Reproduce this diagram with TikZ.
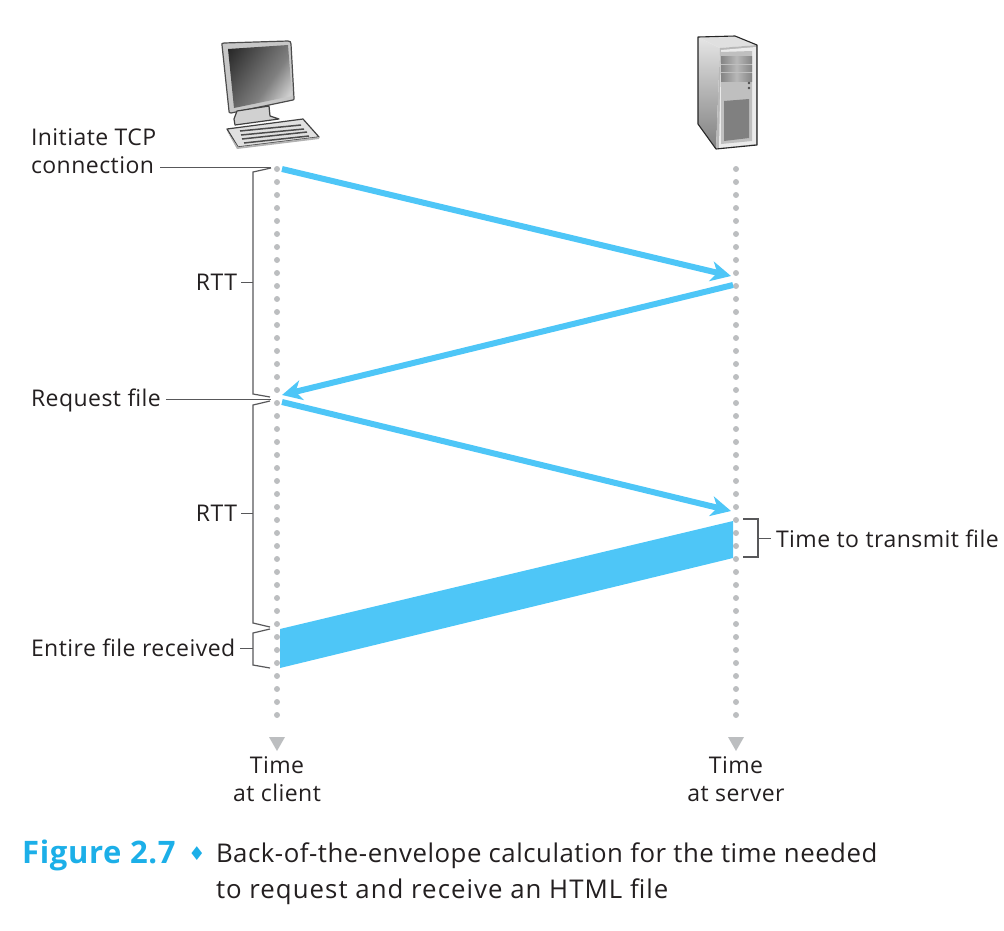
\documentclass[tikz,border=0pt]{standalone}
\usepackage{fontspec}
\setmainfont{Open Sans}[LetterSpace=2]
\newfontfamily\symfont{DejaVu Sans}
\usetikzlibrary{arrows.meta,calc}
\definecolor{flow}{HTML}{4EC6F7}
\definecolor{ink}{HTML}{231F20}
\definecolor{rule}{HTML}{58585A}
\definecolor{dotc}{HTML}{BCBEC0}
\definecolor{capc}{HTML}{1CAFE8}
\pgfdeclarehorizontalshading{screenshade}{100bp}{color(0bp)=(black!85);color(30bp)=(black!85);color(55bp)=(black!50);color(66bp)=(black!18);color(72bp)=(black!45);color(100bp)=(black!60)}
\tikzset{
  x=1pt,y=-1pt,
  lbl/.style={font=\fontsize{23pt}{26pt}\selectfont,text=ink,inner sep=0pt,outer sep=0pt,align=left},
  timel/.style={lbl,align=center},
  captext/.style={lbl,font=\fontsize{25.8pt}{36pt}\selectfont},
  dotline/.style={dotc,line width=6pt,line cap=round,dash pattern=on 0pt off 13pt},
  lead/.style={rule,line width=1pt},
  brace/.style={rule,line width=1.2pt,line join=miter},
  msg/.style={flow,line width=6pt,-{Stealth[length=20pt,width=20pt,inset=6pt]}},
  device/.style={draw=black!75,line width=1.2pt,line join=round},
}
\begin{document}
\begin{tikzpicture}
\useasboundingbox (0,0) rectangle (1004,930);
% timelines
\coordinate (ctop) at (277,169); \coordinate (cend) at (277,728);
\coordinate (stop) at (736,169); \coordinate (send) at (736,728);
\draw[dotline] (ctop) -- (cend);
\draw[dotline] (stop) -- (send);
\fill[dotc] (269,737) -- (285,737) -- (277,751) -- cycle;
\fill[dotc] (728,737) -- (744,737) -- (736,751) -- cycle;
% messages
\coordinate (m1a) at (282,169); \coordinate (m1b) at (731,276);
\coordinate (m2a) at (733,285); \coordinate (m2b) at (282,395);
\coordinate (m3a) at (282,402); \coordinate (m3b) at (731,511);
\draw[msg] (m1a) -- (m1b);
\draw[msg] (m2a) -- (m2b);
\draw[msg] (m3a) -- (m3b);
\fill[flow] (280,629) -- (733,521) -- (733,558) -- (280,668) -- cycle;
% labels
\node[lbl,anchor=base west] (init) at (31,145) {Initiate TCP};
\node[lbl,anchor=base west] (conn) at (31,173) {connection};
\node[lbl,anchor=base west] (req) at (31,406) {Request file};
\node[lbl,anchor=base east] (rtt1) at (237,290) {RTT};
\node[lbl,anchor=base east] (rtt2) at (237,521) {RTT};
\node[lbl,anchor=base west] (ent) at (31,656) {Entire file received};
\node[lbl,anchor=base west] (ttf) at (776,547) {Time to transmit file};
\node[timel,anchor=base] (t1) at (277,773) {Time};
\node[timel,anchor=base] (t2) at (277,801) {at client};
\node[timel,anchor=base] (t3) at (736,773) {Time};
\node[timel,anchor=base] (t4) at (736,801) {at server};
% leads
\coordinate (li) at (271,167); \coordinate (lr) at (271,399);
\draw[lead] (conn.east |- li) ++(6,0) -- (li);
\draw[lead] (req.east |- lr) ++(5,0) -- (lr);
% brackets
\draw[brace] (271,168) -- (253,172) -- (253,394) -- (270,397);
\draw[brace] (270,401) -- (253,405) -- (253,623) -- (270,627);
\draw[brace] (270,629) -- (253,633) -- (253,665) -- (270,668);
\draw[brace] (743,519) -- (758,519) -- (758,557) -- (743,557);
\draw[lead] (rtt1.east |- 0,282) ++(4,0) -- (253,282);
\draw[lead] (rtt2.east |- 0,513) ++(4,0) -- (253,513);
\draw[lead] (ent.east |- 0,648) ++(5,0) -- (253,648);
\draw[lead] (758,538) -- (771,538);
% caption
\node[anchor=base west,inner sep=0pt,text=capc,font=\fontsize{31pt}{32pt}\selectfont\bfseries] (figno) at (22,863) {Figure 2.7};
\node[anchor=base,inner sep=0pt,text=capc,font=\fontsize{19pt}{20pt}\selectfont\symfont] (diam) at (197,860) {♦};
\node[captext,anchor=base west] (c1) at (216,862) {Back-of-the-envelope calculation for the time needed};
\node[captext,anchor=base west] (c2) at (216,898) {\addfontfeature{LetterSpace=4}to request and receive an HTML file};
% computer
\filldraw[fill=black!22,draw=black!70,line width=1.2pt,line join=round] (222,45) .. controls (221,44) and (222,43) .. (224,43) -- (288,41) .. controls (290,41) and (291,42) .. (291,44) -- (294,98) .. controls (294,99) and (294,100) .. (293,100) -- (231,113) .. controls (229,113) and (229,112) .. (229,111) -- cycle;
\begin{scope}
  \clip (228,49) -- (288,45) -- (292,96) -- (234,108) -- cycle;
  \shade[shading=screenshade,shading angle=-35] (205,25) rectangle (315,130);
\end{scope}
\draw[device,fill=black!18] (237,111) -- (269,106) -- (270,116) -- (279,119) -- (235,125) -- (234,119) -- cycle;
\draw[device,fill=black!12] (227,129) -- (303,119) -- (319,137) -- (238,147) -- cycle;
\fill[black!30] (227,131) -- (238,147) -- (319,137) -- (319,139) -- (237,149) -- cycle;
\foreach \a/\b/\c/\d in {240/131/301/125, 241/135/304/129, 242/139/307/132, 244/143/309/136}
  \draw[black!70,line width=1.5pt] (\a,\b) -- (\c,\d);
% server
\shade[top color=black!10,bottom color=black!50] (698,37) -- (720,48) -- (716,149) -- (698,124) -- cycle;
\fill[black!12] (698,37) -- (735,36) -- (757,45) -- (720,48) -- cycle;
\fill[black!28] (720,48) -- (757,45) -- (757,145) -- (716,149) -- cycle;
\fill[black!8] (721,50) -- (756,47) -- (756,144) -- (719,148) -- cycle;
\fill[black!25] (721,52) -- (752,51) -- (752,141) -- (721,144) -- cycle;
\draw[black!85,line width=1.1pt,line join=round] (698,37) -- (735,36) -- (757,45) -- (757,145) -- (716,149) -- (698,124) -- cycle;
\foreach \y/\z in {56/7,65/6.5,73/8}
  \shade[left color=black!48,right color=black!48,middle color=black!28] (721,\y) rectangle (752,\y+\z);
\fill[black!70] (749,83) circle (1.3);
\fill[black!70] (749,88) circle (1.3);
\fill[black!50] (724,101) -- (749,99) -- (749,138) -- (724,141) -- cycle;
\end{tikzpicture}
\end{document}
